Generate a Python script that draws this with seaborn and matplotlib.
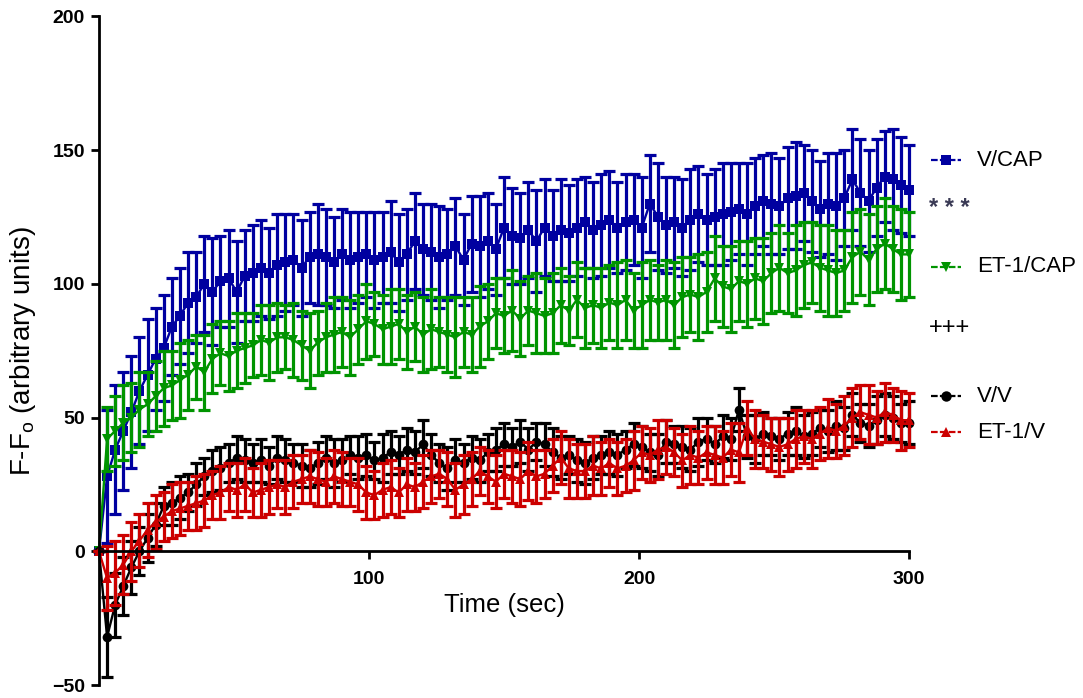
import matplotlib
matplotlib.use("Agg")
import matplotlib.pyplot as plt
from matplotlib.lines import Line2D
import seaborn as sns
import numpy as np
import pandas as pd

# time points (sec)
time = list(range(0, 301, 3))

v_cap = [0, 28, 38, 45, 52, 60, 66, 72, 76, 84,
         88, 93, 95, 100, 97, 101, 102, 97, 103, 104,
         106, 104, 107, 108, 109, 106, 110, 111, 110, 108,
         111, 109, 110, 111, 109, 110, 112, 108, 111, 116,
         113, 112, 110, 111, 114, 109, 115, 114, 116, 113,
         121, 118, 117, 120, 116, 121, 118, 120, 119, 121,
         123, 120, 122, 124, 121, 123, 124, 121, 130, 125,
         122, 123, 121, 124, 126, 124, 125, 126, 127, 128,
         126, 129, 131, 130, 129, 132, 133, 134, 131, 128,
         130, 129, 132, 139, 134, 131, 136, 140, 139, 137,
         135]
v_cap_err = [0, 25, 24, 22, 21, 20, 21, 19, 20, 18,
             18, 19, 17, 18, 20, 17, 18, 19, 17, 18,
             18, 17, 19, 18, 17, 18, 17, 19, 18, 17,
             17, 18, 17, 16, 18, 17, 19, 18, 17, 18,
             17, 18, 19, 17, 18, 17, 18, 19, 18, 17,
             19, 18, 17, 18, 19, 18, 17, 19, 18, 18,
             17, 18, 19, 18, 17, 18, 17, 19, 18, 20,
             18, 17, 18, 19, 18, 17, 18, 19, 18, 17,
             19, 18, 17, 19, 18, 19, 20, 18, 19, 18,
             19, 20, 18, 19, 20, 19, 18, 17, 19, 18,
             17]

et1_cap = [0, 42, 45, 48, 50, 53, 55, 58, 61, 62,
           64, 66, 69, 67, 72, 74, 73, 75, 76, 77,
           79, 78, 80, 80, 79, 77, 75, 78, 80, 81,
           82, 80, 83, 86, 85, 83, 84, 85, 82, 84,
           81, 83, 82, 81, 80, 82, 81, 84, 86, 89,
           88, 90, 87, 90, 89, 88, 89, 92, 90, 94,
           91, 92, 91, 93, 92, 94, 90, 92, 94, 93,
           94, 92, 95, 96, 95, 97, 102, 99, 98, 101,
           100, 102, 101, 104, 106, 104, 105, 107, 108, 106,
           105, 104, 105, 110, 112, 109, 113, 115, 113, 111,
           111]
et1_cap_err = [0, 12, 13, 14, 13, 14, 12, 13, 14, 13,
               14, 13, 12, 14, 13, 12, 13, 14, 13, 12,
               13, 14, 13, 12, 14, 13, 14, 12, 13, 14,
               13, 14, 13, 14, 12, 13, 14, 13, 14, 13,
               14, 15, 13, 14, 15, 13, 14, 15, 14, 13,
               14, 15, 14, 13, 15, 14, 15, 14, 13, 14,
               15, 14, 15, 14, 16, 15, 14, 16, 15, 14,
               15, 16, 15, 14, 16, 15, 16, 15, 16, 15,
               16, 15, 16, 15, 16, 15, 17, 16, 15, 16,
               17, 16, 15, 17, 16, 17, 16, 17, 16, 17,
               16]

v_v = [0, -32, -20, -13, -6, 0, 5, 10, 17, 18,
       20, 22, 25, 28, 30, 31, 33, 35, 34, 33,
       34, 32, 35, 34, 33, 32, 31, 33, 35, 33,
       34, 36, 35, 36, 34, 35, 37, 36, 38, 37,
       40, 36, 33, 31, 34, 33, 35, 34, 37, 38,
       40, 39, 41, 38, 41, 40, 37, 35, 36, 34,
       33, 35, 36, 37, 36, 38, 40, 39, 37, 36,
       41, 40, 39, 38, 41, 42, 40, 43, 42, 53,
       43, 42, 44, 43, 42, 44, 45, 43, 44, 46,
       45, 47, 46, 51, 48, 47, 49, 51, 50, 48,
       48]
v_v_err = [0, 15, 12, 11, 10, 9, 9, 8, 7, 8,
           8, 7, 8, 7, 8, 8, 7, 8, 8, 7,
           8, 7, 8, 8, 7, 8, 7, 8, 8, 9,
           8, 7, 8, 8, 7, 9, 8, 7, 8, 8,
           9, 8, 7, 8, 8, 7, 8, 8, 7, 8,
           8, 7, 8, 8, 7, 8, 9, 8, 7, 8,
           8, 8, 7, 8, 8, 7, 8, 8, 7, 8,
           8, 7, 8, 8, 9, 8, 7, 8, 8, 8,
           8, 9, 8, 7, 8, 8, 9, 8, 8, 7,
           8, 9, 8, 8, 7, 8, 9, 8, 8, 7,
           8]

et1_v = [0, -10, -8, -5, 0, 4, 8, 11, 13, 15,
         16, 17, 18, 19, 21, 22, 24, 23, 25, 22,
         23, 24, 25, 24, 26, 27, 28, 27, 26, 28,
         27, 26, 25, 22, 21, 23, 24, 22, 25, 24,
         26, 28, 29, 27, 23, 25, 27, 30, 28, 26,
         29, 28, 27, 30, 28, 29, 32, 35, 31, 30,
         30, 32, 31, 33, 31, 32, 34, 37, 36, 38,
         39, 37, 34, 36, 35, 37, 36, 35, 38, 37,
         46, 42, 41, 40, 39, 40, 42, 43, 42, 44,
         46, 45, 47, 50, 52, 51, 50, 52, 51, 49,
         49]
et1_v_err = [0, 12, 12, 11, 11, 10, 10, 10, 9, 10,
             10, 9, 10, 10, 9, 10, 9, 10, 10, 9,
             10, 10, 9, 10, 10, 9, 10, 10, 9, 10,
             10, 9, 10, 10, 9, 10, 10, 9, 10, 9,
             10, 10, 9, 10, 10, 11, 10, 9, 10, 10,
             9, 10, 10, 11, 10, 9, 10, 10, 11, 10,
             10, 11, 10, 9, 10, 10, 11, 10, 10, 11,
             10, 9, 10, 11, 10, 10, 11, 10, 10, 11,
             10, 11, 10, 10, 11, 10, 11, 10, 11, 10,
             11, 10, 11, 11, 10, 11, 10, 11, 10, 11,
             10]

groups = ["V/CAP", "ET-1/CAP", "V/V", "ET-1/V"]
colors = {"V/CAP": "#0000a0", "ET-1/CAP": "#009400", "V/V": "#000000", "ET-1/V": "#cc0000"}
markers = {"V/CAP": "s", "ET-1/CAP": "v", "V/V": "o", "ET-1/V": "^"}
means = {"V/CAP": v_cap, "ET-1/CAP": et1_cap, "V/V": v_v, "ET-1/V": et1_v}
errs = {"V/CAP": v_cap_err, "ET-1/CAP": et1_cap_err, "V/V": v_v_err, "ET-1/V": et1_v_err}

df = pd.concat([pd.DataFrame({"time": time, "value": means[g], "sem": errs[g], "group": g})
                for g in groups], ignore_index=True)

sns.set_style("ticks")
plt.rcParams["font.family"] = ["Liberation Sans", "DejaVu Sans"]
plt.rcParams["text.color"] = "black"
plt.rcParams["axes.labelcolor"] = "black"

fig = plt.figure(figsize=(10.83, 6.98), dpi=100)
ax = fig.add_axes([0.0914, 0.0186, 0.748, 0.958])

for g in groups:
    d = df[df["group"] == g]
    ax.errorbar(d["time"], d["value"], yerr=d["sem"], fmt="none", ecolor=colors[g],
                elinewidth=2.3, capsize=4.2, capthick=2.3, clip_on=False)
    sns.lineplot(data=d, x="time", y="value", ax=ax, color=colors[g], marker=markers[g],
                 markersize=7, markeredgewidth=0, linewidth=1.7, errorbar=None,
                 legend=False, clip_on=False)

ax.set_xlim(0, 300)
ax.set_ylim(-50, 200)
ax.set_xticks([100, 200, 300])
ax.set_yticks([-50, 0, 50, 100, 150, 200])
ax.spines["top"].set_visible(False)
ax.spines["right"].set_visible(False)
ax.spines["bottom"].set_position(("data", 0))
for s in ["left", "bottom"]:
    ax.spines[s].set_linewidth(2)
    ax.spines[s].set_color("black")
ax.tick_params(axis="both", direction="out", length=6, width=2, labelsize=14,
               pad=4, colors="black")
for lab in ax.get_xticklabels() + ax.get_yticklabels():
    lab.set_fontweight("bold")
ax.tick_params(axis="x", pad=8)

ax.set_xlabel("Time (sec)", fontsize=18.5)
ax.xaxis.set_label_coords(0.5, 0.137)
ax.set_ylabel("F-F$_\\mathregular{o}$ (arbitrary units)", fontsize=20, labelpad=10)

# legend at right, outside axes
H = 698.0
W = 1083.0
legend_rows = [("V/CAP", 160), ("ET-1/CAP", 267), ("V/V", 396), ("ET-1/V", 432)]
for g, ypx in legend_rows:
    y = 1 - ypx / H
    fig.add_artist(Line2D([931 / W, 961 / W], [y, y], transform=fig.transFigure,
                          color=colors[g], linewidth=1.6, linestyle=(0, (3, 1))))
    fig.add_artist(Line2D([946 / W], [y], transform=fig.transFigure, color=colors[g],
                          marker=markers[g], markersize=7.5, markeredgewidth=0))
    fig.text(977 / W, y, g, fontsize=16, va="center", ha="left")

fig.text(929 / W, 1 - 208 / H, "* * *", fontsize=17, va="center", ha="left",
         color="#3a3a55", fontweight="bold")
fig.text(929 / W, 1 - 328 / H, "+++", fontsize=17, va="center", ha="left", color="black")

fig.savefig("out.png", dpi=100)
